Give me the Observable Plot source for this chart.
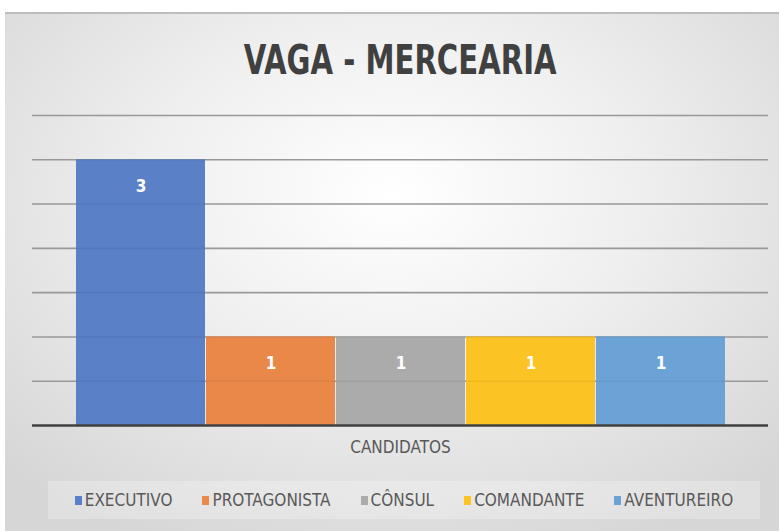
<!DOCTYPE html>
<html>
<head>
<meta charset="utf-8">
<script src="https://cdn.jsdelivr.net/npm/d3@7"></script>
<script src="https://cdn.jsdelivr.net/npm/@observablehq/plot@0.6"></script>
<style>
  html, body { margin: 0; padding: 0; background: #ffffff; }
  body { width: 779px; height: 531px; overflow: hidden; position: relative; }
  #box {
    position: absolute; left: 5px; top: 12px; width: 774px; height: 519px;
    border-top: 2px solid #bdbdbd; box-sizing: border-box;
    background: radial-gradient(ellipse 70% 75% at 50% 35%, #ffffff 0%, #efefef 45%, #d6d6d6 100%);
  }
  #title {
    position: absolute; left: 0; top: 40px; width: 800px; text-align: center;
    font-family: "DejaVu Sans Condensed", "Open Sans", sans-serif;
    line-height: 1;
  }
  #title span {
    display: inline-block; transform: scaleX(0.81); transform-origin: 50% 50%;
    font-weight: bold; font-size: 40px; color: #404040;
  }
  #chart { position: absolute; left: 0; top: 100px; }
  #legend {
    position: absolute; left: 48px; top: 481px; width: 712px; height: 38px;
    background: rgba(255,255,255,0.25);
    display: flex; align-items: center; justify-content: center; gap: 30px;
    font-family: "DejaVu Sans Condensed", "Open Sans", sans-serif;
    font-size: 17px; color: #595959;
  }
  .item { display: flex; align-items: center; }
  .sw { width: 7px; height: 9px; margin-right: 3px; }
</style>
</head>
<body>
<div id="box"></div>
<div id="title"><span></span></div>
<div id="chart"></div>
<div id="legend"></div>
<script>
const title = "VAGA - MERCEARIA";
const axisLabel = "CANDIDATOS";
const candidates = ["EXECUTIVO", "PROTAGONISTA", "CÔNSUL", "COMANDANTE", "AVENTUREIRO"];
const values = [3, 1, 1, 1, 1];
const colors = ["#5a80c8", "#ea884a", "#ababab", "#fbc323", "#6ca3d7"];
const gridTicks = [0.5, 1, 1.5, 2, 2.5, 3, 3.5];

const data = candidates.map((c, i) => ({ name: c, value: values[i] }));

document.querySelector("#title span").textContent = title;

const chart = Plot.plot({
  width: 779,
  height: 370,
  marginLeft: 32,
  marginRight: 11,
  marginTop: 15,
  marginBottom: 45,
  style: { background: "transparent", overflow: "visible" },
  x: { domain: candidates, paddingInner: 0.01, paddingOuter: 0.327, axis: null },
  y: { domain: [0, 3.5], axis: null },
  color: { domain: candidates, range: colors },
  marks: [
    Plot.ruleY(gridTicks, { stroke: "#a3a3a3", strokeWidth: 1.6 }),
    Plot.barY(data, { x: "name", y: "value", fill: "name", fillOpacity: 1 }),
    Plot.ruleY(gridTicks, { stroke: "#000", strokeOpacity: 0.06, strokeWidth: 1.6 }),
    Plot.ruleY([0], { stroke: "#404040", strokeWidth: 2.5 }),
    Plot.text(data, { x: "name", y: "value", text: d => String(d.value), dy: 27,
      fill: "#ffffff", fontWeight: "bold", fontSize: 17,
      fontFamily: "DejaVu Sans Condensed, sans-serif" }),
    Plot.text([axisLabel], { frameAnchor: "bottom", dy: 27, text: d => d,
      fill: "#595959", fontSize: 17,
      fontFamily: "DejaVu Sans Condensed, sans-serif" })
  ]
});
document.getElementById("chart").appendChild(chart);

const legend = document.getElementById("legend");
candidates.forEach((c, i) => {
  const it = document.createElement("div");
  it.className = "item";
  const sw = document.createElement("span");
  sw.className = "sw";
  sw.style.background = colors[i];
  const t = document.createElement("span");
  t.textContent = c;
  it.appendChild(sw); it.appendChild(t);
  legend.appendChild(it);
});
</script>
</body>
</html>
